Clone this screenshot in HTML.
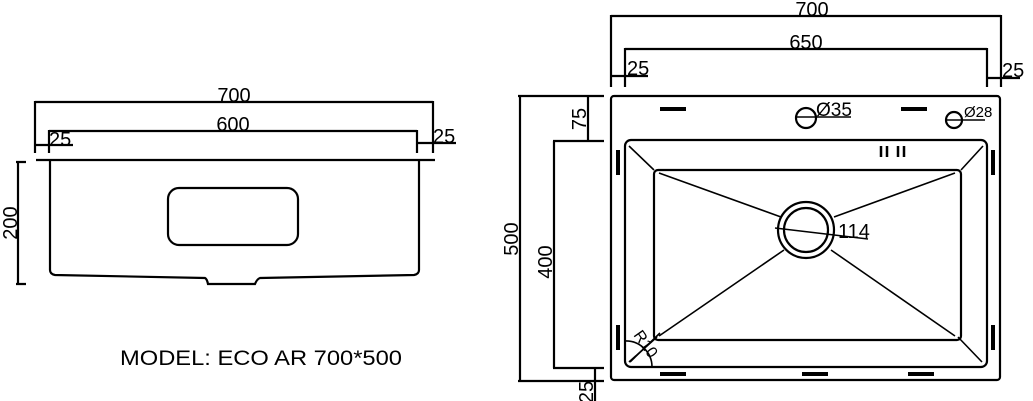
<!DOCTYPE html>
<html><head><meta charset="utf-8"><style>html,body{margin:0;padding:0;background:#fff}svg{display:block}</style></head><body>
<svg width="1033" height="401" viewBox="0 0 1033 401" xmlns="http://www.w3.org/2000/svg" font-family="Liberation Sans, sans-serif" fill="none" stroke="#000" stroke-width="2.2">
<!-- LEFT VIEW -->
<path d="M35 102H433M35 101V153M433 101V153"/>
<path d="M49 131H417M49 130V153M417 130V153"/>
<path d="M35 145H73M417 143H456"/>
<path d="M36 160H435"/>
<path d="M50 160V270Q50 274 55 275L205 278Q207 279 208 284H255Q257 279 260 278L414 275Q419 274 419 270V160"/>
<rect x="168" y="188" width="130" height="57" rx="11"/>
<path d="M18 162V284M16 162H26M16 284H26"/>
<g fill="#000" stroke="none" font-size="20">
<text x="234" y="102" text-anchor="middle">700</text>
<text x="233" y="131" text-anchor="middle">600</text>
<text x="49" y="146">25</text>
<text x="433" y="143">25</text>
<text transform="translate(17 223) rotate(-90)" text-anchor="middle">200</text>
<text x="120" y="365" font-size="21" textLength="282" lengthAdjust="spacingAndGlyphs">MODEL: ECO AR 700*500</text>
</g>
<!-- RIGHT VIEW -->
<path d="M611 16H1001M611 15V87M1001 15V87"/>
<path d="M625 49H987M625 48V87M987 48V87"/>
<path d="M611 76H648M987 78H1020"/>
<rect x="611" y="96" width="389" height="284" rx="3"/>
<rect x="625" y="140" width="362" height="227" rx="6"/>
<rect x="654" y="170" width="307" height="170" rx="4"/>
<g stroke-width="1.6">
<path d="M629 146L654 170M983 146L961 170M629 362L657 337M982 362L958 337"/>
<path d="M659 173L781 217M955 173L834 217M659 336L784 250M955 336L831 250"/>
<path d="M775 228L868 239"/>
<path d="M625 341A26 26 0 0 1 652 367M630 362L660 333"/>
</g>
<circle cx="806" cy="230" r="28"/>
<circle cx="806" cy="230" r="22"/>
<circle cx="806" cy="118" r="10"/>
<circle cx="954" cy="120" r="8"/>
<path d="M795 117H851M945 120H985" stroke-width="1.5"/>
<g stroke-width="4">
<path d="M660 109H686M901 109H927"/>
<path d="M618 150V175M993 150V175M618 325V350M993 325V350"/>
<path d="M660 374H686M802 374H828M908 374H934"/>
<path d="M881 146V157M887 146V157M898 146V157M904 146V157" stroke-width="2.5"/>
</g>
<path d="M520 96V381M518 96H604M518 381H604"/>
<path d="M554 141V368M553 141H604M553 368H604"/>
<path d="M588 96V141M595 368V401"/>
<g fill="#000" stroke="none" font-size="20">
<text x="812" y="16" text-anchor="middle">700</text>
<text x="806" y="49" text-anchor="middle">650</text>
<text x="627" y="75">25</text>
<text x="1002" y="77">25</text>
<text x="816" y="116" font-size="19">Ø35</text>
<text x="964" y="117" font-size="15">Ø28</text>
<text x="838" y="238" font-size="20">114</text>
<text transform="translate(633 335) rotate(55)" font-size="16">R10</text>
<text transform="translate(518 239) rotate(-90)" text-anchor="middle">500</text>
<text transform="translate(552 262) rotate(-90)" text-anchor="middle">400</text>
<text transform="translate(586 119) rotate(-90)" text-anchor="middle">75</text>
<text transform="translate(593 392) rotate(-90)" text-anchor="middle">25</text>
</g>
</svg>
</body></html>
